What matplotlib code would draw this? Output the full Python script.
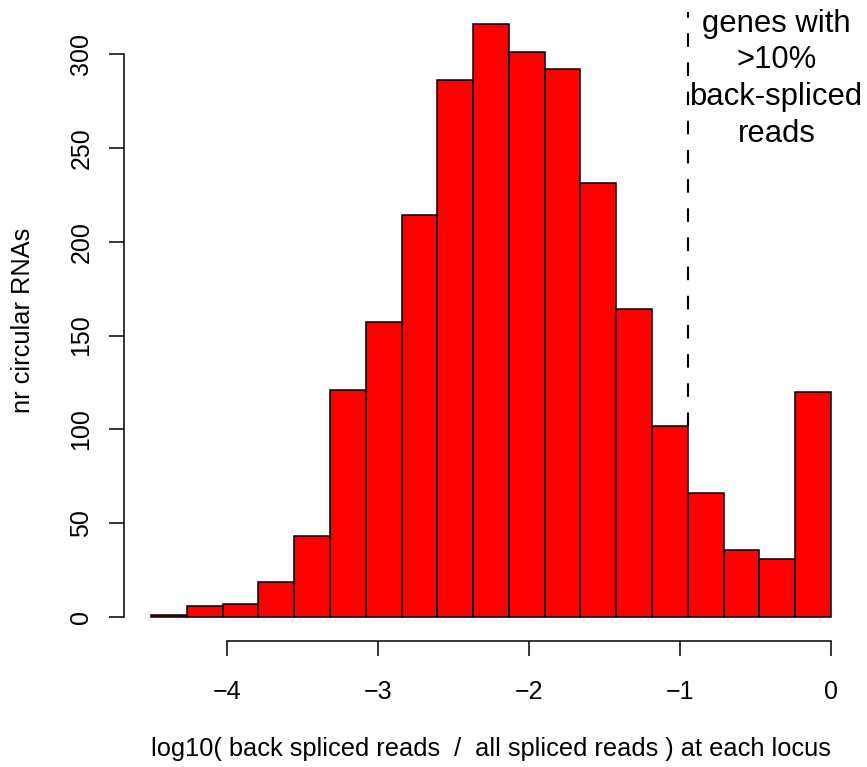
import matplotlib

matplotlib.use("Agg")
import matplotlib.pyplot as plt
import numpy as np

# histogram of log10(back spliced / all spliced) per locus
bin_start = -4.5
bin_end = 0.0
n_bins = 19
counts = [1, 6, 7, 19, 43, 121, 157, 214, 286, 316, 301, 292, 231, 164, 102, 66, 36, 31, 120]
cutoff_bin = 15  # dashed line sits on this bin edge

x_ticks = [-4, -3, -2, -1, 0]
y_ticks = [0, 50, 100, 150, 200, 250, 300]

note = "genes with\n>10%\nback-spliced\nreads"
xlabel = "log10( back spliced reads  /  all spliced reads ) at each locus"
ylabel = "nr circular RNAs"

plt.rcParams["font.family"] = ["Liberation Sans", "DejaVu Sans"]

edges = np.linspace(bin_start, bin_end, n_bins + 1)
widths = np.diff(edges)

fig = plt.figure(figsize=(8.67, 7.67), dpi=100)
ax = fig.add_axes([0.143, 0.1643, 0.8467, 0.8357])

ax.bar(edges[:-1], counts, width=widths, align="edge",
       color="#ff0000", edgecolor="black", linewidth=1.1)

# R-style 4% padding around the data range
x_pad = 0.04 * (bin_end - bin_start)
y_pad = 0.04 * max(counts)
ax.set_xlim(bin_start - x_pad, bin_end + x_pad)
ax.set_ylim(-y_pad, max(counts) + y_pad)

cut_x = edges[cutoff_bin]
ax.plot([cut_x, cut_x], [counts[cutoff_bin - 1], 322], color="black",
        linestyle=(0, (6.5, 7.5)), linewidth=1.5)

ax.text(-0.36, 324, note, ha="center", va="top", fontsize=22.3,
        linespacing=1.29)

for side in ("top", "right"):
    ax.spines[side].set_visible(False)
ax.spines["left"].set_bounds(y_ticks[0], y_ticks[-1])
ax.spines["bottom"].set_bounds(x_ticks[0], x_ticks[-1])
for side in ("left", "bottom"):
    ax.spines[side].set_linewidth(1.1)

ax.set_xticks(x_ticks)
ax.set_xticklabels([str(t).replace("-", "\u2212") for t in x_ticks])
ax.set_yticks(y_ticks)
ax.set_yticklabels([str(t) for t in y_ticks], rotation=90, va="center")
ax.tick_params(axis="both", length=11, width=1.1, labelsize=18)
ax.tick_params(axis="x", pad=17)
ax.tick_params(axis="y", pad=11)

ax.set_xlabel(xlabel, fontsize=18.3, labelpad=24)
ax.set_ylabel(ylabel, fontsize=18.3, labelpad=25)

fig.savefig("out.png", dpi=100)
